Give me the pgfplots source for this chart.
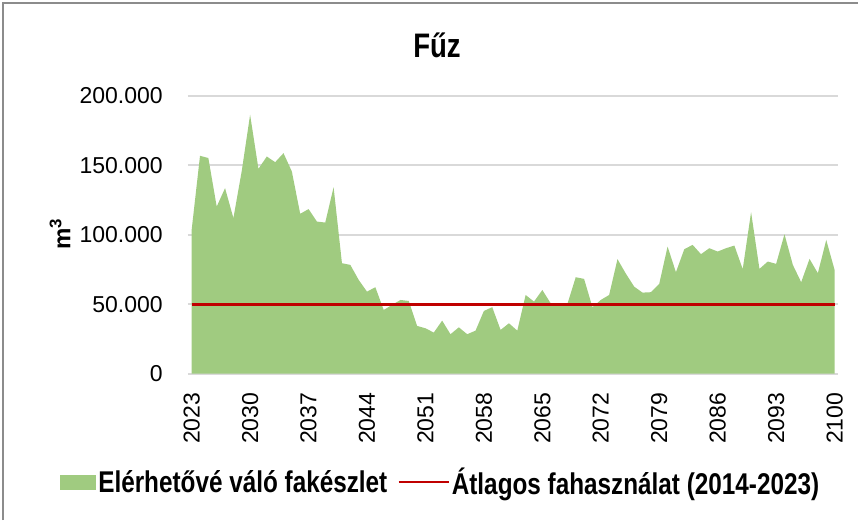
\documentclass[border=0pt]{standalone}
\usepackage{pgfplots}
\pgfplotsset{compat=1.18}
\usepackage{pgfplotstable}
\usepackage{fontspec}
\setmainfont{Liberation Sans}
\newfontfamily\condfont[FakeStretch=0.81]{Liberation Sans}
\definecolor{areagreen}{RGB}{160,203,128}
\definecolor{avgred}{RGB}{192,0,0}
\definecolor{gridgray}{RGB}{217,217,217}
\definecolor{framegray}{RGB}{140,140,140}

\pgfplotstableread{
year value
2023 103500
2024 156900
2025 155300
2026 120300
2027 133600
2028 112000
2029 146000
2030 186500
2031 147500
2032 156400
2033 152300
2034 158800
2035 145600
2036 115100
2037 118500
2038 109500
2039 108800
2040 134300
2041 79500
2042 78300
2043 67500
2044 59000
2045 62200
2046 45800
2047 49400
2048 53000
2049 52300
2050 34300
2051 32600
2052 29500
2053 38100
2054 28300
2055 33300
2056 28300
2057 30900
2058 45100
2059 47800
2060 31400
2061 36200
2062 30900
2063 56600
2064 51800
2065 60200
2066 50600
2067 49400
2068 50100
2069 69400
2070 68200
2071 47800
2072 53000
2073 56600
2074 82400
2075 72000
2076 62600
2077 58300
2078 58600
2079 64600
2080 91500
2081 73000
2082 89600
2083 92700
2084 86000
2085 90300
2086 87900
2087 90300
2088 92200
2089 75200
2090 116300
2091 75400
2092 80700
2093 79000
2094 100400
2095 78300
2096 65800
2097 82600
2098 72300
2099 96300
2100 74700
}\stock

\begin{document}
\begin{tikzpicture}
\begin{axis}[
  at={(187.9pt,146.5pt)}, anchor=south west,
  scale only axis, width=650pt, height=277.5pt,
  xmin=2022.55, xmax=2100.4, ymin=0, ymax=200000,
  axis line style={draw=none},
  major tick length=0pt,
  xtick={2023,2030,...,2100},
  ytick={0,50000,100000,150000,200000},
  scaled y ticks=false,
  ymajorgrids, major grid style={gridgray, line width=2pt},
  /pgf/number format/assume math mode=true,
  yticklabel style={font=\fontsize{23}{27}\selectfont, inner sep=0pt, xshift=-25pt,
    /pgf/number format/.cd, fixed, precision=0, 1000 sep={.}},
  xticklabel style={font=\fontsize{23}{27}\selectfont, inner sep=0pt, yshift=-19pt, rotate=90, anchor=east,
    /pgf/number format/.cd, 1000 sep={}},
  legend columns=2,
  legend style={at={(axis description cs:0.389,-0.391)}, anchor=center, draw=none, fill=none,
    font=\condfont\bfseries\fontsize{30}{34}\selectfont, inner sep=0pt,
    /tikz/every even column/.append style={column sep=8pt}},
  legend cell align=left,
]
\addplot[fill=areagreen, draw=none,
  legend image code/.code={\fill[areagreen] (0pt,-7.5pt) rectangle (36pt,7.5pt);}]
  table[x=year, y=value]{\stock} \closedcycle;
\addlegendentry{Elérhetővé váló fakészlet}
\addplot[avgred, line width=3pt,
  legend image code/.code={\draw[avgred, line width=2.5pt] (0pt,0pt) -- (50pt,0pt);}]
  coordinates {(2023,50000) (2100,50000)};
\addlegendentry{Átlagos fahasználat (2014-2023)}
\end{axis}
\node[font=\condfont\bfseries\fontsize{34}{38}\selectfont] at (437pt,475pt) {Fűz};
\node[rotate=90, font=\bfseries\fontsize{24}{28}\selectfont] at (60pt,286pt) {m\textsuperscript{3}};
\draw[framegray, line width=2.5pt] (3pt,0pt) -- (3pt,517pt) -- (858pt,517pt);
\pgfresetboundingbox
\useasboundingbox (0pt,0pt) rectangle (858pt,520pt);
\end{tikzpicture}
\end{document}
